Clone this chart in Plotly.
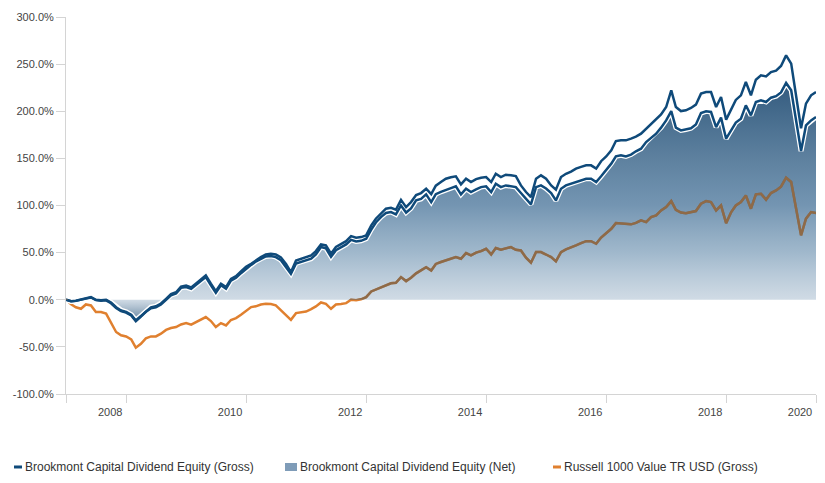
import pandas as pd
import plotly.graph_objects as go

# ---- data (cumulative return, %) ----
dates = pd.date_range("2007-12-31", periods=151, freq=pd.offsets.MonthEnd()).strftime("%Y-%m-%d").tolist()

gross = [0, -1.5, -1, 0.5, 1.5, 2.8, 0, -0.5, 0, -3, -8, -11.4, -13, -16, -22, -17, -12, -8, -7, -4,
         1, 6, 8, 14, 15, 13, 17, 22, 25.8, 17, 9, 17, 13.4, 22, 25, 30, 35, 38.2, 42, 45.2,
         48, 48.8, 48.1, 45, 38, 29.3, 41.7, 43.5, 45, 47, 51.6, 58.7, 57.6, 48.8, 56, 59, 62.2, 67.5, 65.8, 66.5,
         68.3, 78.9, 86, 91.3, 96.6, 97.5, 95.5, 106, 98.3, 103.6, 111, 113.2, 117.8, 112, 121, 125, 128.4, 130, 130.9, 122.4,
         128.4, 124.9, 128, 129.5, 130.2, 124.9, 133.7, 130.2, 132.7, 132, 131.2, 121.3, 114.3, 108.9, 128.4, 132, 128.4, 121.3, 116.8, 130.2,
         133.7, 136, 139.1, 141, 142.6, 142.6, 139.1, 147, 152, 158.5, 168.4, 169.1, 169.1, 171, 173, 176.2, 181.5, 186, 191.1, 196.7,
         204.5, 222.2, 204.5, 200.2, 201, 203.5, 207, 218.7, 220.4, 220.4, 204.5, 215.1, 191.1, 203, 212, 216.9, 231, 216.9, 233.5, 238.1,
         237, 241.6, 243, 248, 259.3, 250.5, 215.1, 182, 208.1, 216.9, 220.4]

net = [0, -1.6, -1.2, 0.3, 1.2, 2.4, -0.4, -1, -0.6, -3.7, -8.7, -12, -13.7, -16.7, -22.7, -17.8, -12.8, -9, -8, -5,
       0, 4.8, 6.8, 12.6, 13.5, 11.6, 15.5, 20.3, 24, 15.4, 7.5, 15.4, 11.8, 20.3, 23.3, 28.2, 33, 37, 40.5, 43.5,
       46, 46.5, 45.2, 42, 35, 27.6, 38.5, 40, 41.5, 43.5, 48, 55.9, 54.5, 45.5, 52.5, 55.5, 58.7, 63.5, 61.8, 62.5,
       64.7, 74.5, 82, 87.7, 92, 93, 90.5, 100, 92.5, 97, 105.4, 107, 111.8, 103.6, 112, 114.5, 116.8, 118.5, 120.3, 111.8,
       117.8, 114.3, 117, 119.5, 120.3, 114.3, 123.1, 119.5, 121.3, 120.5, 119.5, 113.2, 107.2, 101.2, 119.5, 121.3, 118, 113.2, 105.4, 117.8,
       121.3, 123, 124.9, 127, 128.4, 128.4, 124.9, 131, 137.5, 144.4, 152.1, 153.2, 152.1, 154, 157.5, 160.3, 167.3, 172, 176.2, 182.6,
       190.3, 200.2, 182.6, 179.7, 180.5, 182, 186, 198.1, 199.9, 199.2, 183.2, 193.2, 170.9, 180, 188, 192.1, 206.3, 195.6, 209.8, 211.6,
       209.8, 214.4, 216, 220, 230, 222.2, 190.3, 157.8, 185, 190.3, 193.8]

russell = [0, -4.9, -8, -9.6, -5, -6, -13, -13, -14.7, -23.6, -34.2, -37.7, -39, -42, -50.9, -46.7, -41, -38.9, -38.9, -36,
           -32, -30, -29, -26.2, -24.8, -26.5, -24, -21, -18.4, -22.6, -29, -24.8, -27.2, -21.5, -19.5, -16, -11.4, -7.8, -7, -5,
           -4.3, -4.5, -6, -11.4, -17, -21.3, -14.2, -13.1, -12.5, -10, -7.1, -2.9, -4.3, -9.6, -5, -4.5, -3.6, 0, -0.5, 0.5,
           2.8, 8.8, 11, 13.4, 15.2, 17.5, 18, 24, 19.8, 23.3, 28, 31.1, 34.6, 31.1, 38, 40, 41.7, 43.5, 45.2, 43.5,
           49.5, 47, 50, 51.6, 54.1, 48.1, 54.8, 53, 54.5, 55.9, 53, 52.3, 44.6, 39.3, 50.6, 50.6, 48, 45.2, 40.7, 50.6,
           53.5, 55.2, 57.6, 60, 62.2, 62.2, 59.4, 66, 70.7, 75.3, 81.3, 80.7, 79.9, 80, 81.5, 84.2, 82.4, 87.7, 89.5, 94.8,
           98.3, 104.7, 95.5, 92.5, 91.9, 93, 94.1, 101.9, 104.7, 103.6, 94.8, 100.1, 81.3, 93, 100, 103.6, 110.7, 96.6, 111.8, 112.5,
           106.2, 113.2, 116, 120, 129.5, 124.9, 98.3, 68.3, 86, 93, 91.9]

series_names = ["Brookmont Capital Dividend Equity (Gross)",
                "Brookmont Capital Dividend Equity (Net)",
                "Russell 1000 Value TR USD (Gross)"]

tick_dates = ["2007-12-31", "2008-12-31", "2010-12-31", "2012-12-31", "2014-12-31",
              "2016-12-31", "2018-12-31", "2020-06-30"]
tick_labels = ["", "2008", "2010", "2012", "2014", "2016", "2018", "2020"]

y_tick_vals = [-100, -50, 0, 50, 100, 150, 200, 250, 300]
y_tick_text = ["-100.0%", "-50.0%", "0.0%", "50.0%", "100.0%", "150.0%", "200.0%", "250.0%", "300.0%"]

BLUE = "#0f4a7a"
ORANGE = "#e0802f"
BROWN = "#8f6a47"
FONT = "Liberation Sans, Arial, sans-serif"

fig = go.Figure()

# benchmark line (under the area)
fig.add_trace(go.Scatter(x=dates, y=russell, mode="lines", line=dict(color=ORANGE, width=2.5),
                         showlegend=False, hoverinfo="skip"))

# net area with gradient
fig.add_trace(go.Scatter(
    x=dates, y=net, mode="lines", fill="tozeroy", line=dict(color="rgba(0,0,0,0)", width=0),
    fillgradient=dict(type="vertical", start=-25, stop=235,
                      colorscale=[[0.0, "rgba(55,95,130,0.9)"],
                                  [0.0962, "rgba(161,183,203,0.5)"],
                                  [0.2885, "rgba(97,137,170,0.6)"],
                                  [0.4808, "rgba(62,108,148,0.72)"],
                                  [0.673, "rgba(67,108,143,0.86)"],
                                  [1.0, "rgba(48,88,124,1)"]]),
    showlegend=False, hoverinfo="skip"))

# white halos first, then the blue lines
fig.add_trace(go.Scatter(x=dates, y=net, mode="lines", line=dict(color="white", width=5),
                         showlegend=False, hoverinfo="skip"))
fig.add_trace(go.Scatter(x=dates, y=gross, mode="lines", line=dict(color="white", width=5.5),
                         showlegend=False, hoverinfo="skip"))
fig.add_trace(go.Scatter(x=dates, y=net, mode="lines", line=dict(color=BLUE, width=2.5),
                         name=series_names[1], showlegend=False))
fig.add_trace(go.Scatter(x=dates, y=gross, mode="lines", line=dict(color=BLUE, width=2.5),
                         name=series_names[0], showlegend=False))

# benchmark seen through the area (clipped to the positive half via a second y axis)
fig.add_trace(go.Scatter(x=dates, y=russell, mode="lines", line=dict(color=BROWN, width=2.5),
                         xaxis="x", yaxis="y2", name=series_names[2], showlegend=False))

# the page body has an 8px margin, so the figure is sized/offset to compensate
fig.update_layout(
    width=817, height=475,
    margin=dict(l=58, r=9, t=9, b=89),
    paper_bgcolor="white", plot_bgcolor="rgba(0,0,0,0)",
    font=dict(family=FONT, size=11, color="#444"),
    xaxis=dict(type="date", range=["2007-12-31", "2020-06-30"], showgrid=False, zeroline=False,
               showline=True, linecolor="#d4d4d4", linewidth=1, automargin=False,
               tickmode="array", tickvals=tick_dates, ticktext=tick_labels,
               ticks="outside", ticklen=8, tickcolor="#d4d4d4", ticklabelshift=-16,
               tickfont=dict(family=FONT, size=11, color="#444"), anchor="y"),
    yaxis=dict(range=[-100, 300], domain=[0, 1], tickmode="array",
               tickvals=y_tick_vals, ticktext=y_tick_text, automargin=False,
               showgrid=False, zeroline=False,
               showline=True, linecolor="#d4d4d4", linewidth=1,
               ticks="outside", ticklen=9, tickcolor="#d4d4d4",
               tickfont=dict(family=FONT, size=11, color="#444")),
    yaxis2=dict(range=[0, 300], domain=[0.25, 1], visible=False, anchor="x"),
    showlegend=False,
)

# custom legend
LY = -0.1936
fig.add_shape(type="line", xref="paper", yref="paper", x0=-0.0693, x1=-0.0587, y0=LY, y1=LY,
              line=dict(color=BLUE, width=3))
fig.add_shape(type="rect", xref="paper", yref="paper", x0=0.292, x1=0.308, y0=-0.2042, y1=-0.1830,
              line=dict(width=0), fillcolor="#7f9cb8")
fig.add_shape(type="line", xref="paper", yref="paper", x0=0.6493, x1=0.66, y0=LY, y1=LY,
              line=dict(color=ORANGE, width=3))
for xp, txt in [(-0.0573, series_names[0]), (0.3093, series_names[1]), (0.6613, series_names[2])]:
    fig.add_annotation(x=xp, y=LY, xref="paper", yref="paper", text=txt, showarrow=False,
                       xanchor="left", yanchor="middle", font=dict(family=FONT, size=12, color="#333"))

fig.write_html("out.html")
